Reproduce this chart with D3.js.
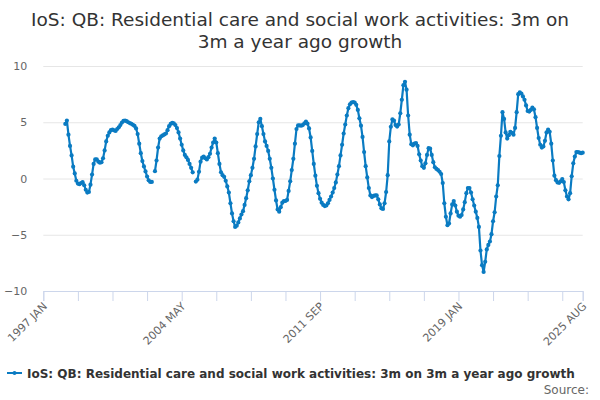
<!DOCTYPE html>
<html>
<head>
<meta charset="utf-8">
<script src="https://cdn.jsdelivr.net/npm/d3@7"></script>
<style>
  body { margin: 0; background: #fff; }
  svg { font-family: "DejaVu Sans", sans-serif; }
</style>
</head>
<body>
<svg width="600" height="400"></svg>
<script>
const svg = d3.select('svg');

const titleLines = ['IoS: QB: Residential care and social work activities: 3m on', '3m a year ago growth'];
const seriesName = 'IoS: QB: Residential care and social work activities: 3m on 3m a year ago growth';
const monthNames = ['JAN', 'FEB', 'MAR', 'APR', 'MAY', 'JUN', 'JUL', 'AUG', 'SEP', 'OCT', 'NOV', 'DEC'];

// x categories: every month 1997 JAN .. 2025 AUG
const months = [];
for (let y = 1997; y <= 2025; y++) {
  monthNames.forEach((mn, i) => {
    if (y === 2025 && i > 7) return;
    months.push(y + ' ' + mn);
  });
}

const labelledTicks = ['1997 JAN', '2004 MAY', '2011 SEP', '2019 JAN', '2025 AUG'];
const yTicks = [-10, -5, 0, 5, 10];

// series starts 1998 MAR, null = gap in the line
const firstMonth = '1998 MAR';
const growth = [
  4.85, 5.15, 3.9, 2.9, 2.05, 1.05, 0.45, -0.2, -0.45, -0.5,
  -0.4, -0.33, -0.6, -1.0, -1.25, -1.2, -0.55, 0.35, 1.3, 1.7,
  1.7, 1.5, 1.4, 1.45, 1.8, 2.5, 3.3, 3.8, 4.1, 4.3,
  4.35, 4.28, 4.23, 4.4, 4.55, 4.75, 4.97, 5.13, 5.15, 5.1,
  5.0, 4.93, 4.86, 4.77, 4.67, 4.45, 3.95, 3.1, 2.25, 1.55,
  1.07, 0.63, 0.18, -0.16, -0.3, -0.3,
  null,
  0.65, 1.6, 2.75, 3.55, 3.75, 3.83, 3.92, 4.0, 4.3, 4.65,
  4.85, 4.95, 4.9, 4.75, 4.48, 4.1, 3.55, 3.0, 2.5, 2.1,
  1.88, 1.65, 1.3, 0.95, 0.55,
  null,
  -0.27, -0.1, 0.6, 1.5, 1.85, 1.95, 1.8, 1.7, 1.9, 2.2,
  2.75, 3.2, 3.55, 3.2, 2.25, 1.3, 0.55, 0.3, 0.15, -0.2,
  -0.7, -1.25, -2.2, -3.1, -3.8, -4.3, -4.2, -3.9, -3.55, -3.2,
  -2.9, -2.35, -1.75, -1.05, -0.25, 0.3, 0.95, 1.75, 2.85, 3.95,
  5.0, 5.3, 4.65, 3.95, 3.3, 2.9, 2.45, 1.75, 0.95, 0.0,
  -1.0, -1.95, -2.75, -2.95, -2.55, -2.15, -2.0, -2.0, -1.9, -1.1,
  -0.25, 0.75, 1.75, 3.1, 4.4, 4.72, 4.72, 4.7, 4.75, 4.9,
  5.05, 4.87, 4.45, 3.65, 2.45, 1.3, 0.25, -0.65, -1.3, -1.8,
  -2.15, -2.35, -2.45, -2.4, -2.2, -1.9, -1.6, -1.25, -0.85, -0.35,
  0.35, 1.1, 2.05, 3.0, 4.0, 4.8, 5.6, 6.25, 6.6, 6.75,
  6.8, 6.75, 6.55, 6.1, 5.35, 4.7, 3.7, 2.35, 1.1, 0.1,
  -0.85, -1.5, -1.65, -1.55, -1.5, -1.5, -1.85, -2.3, -2.65, -2.7,
  -2.2, -1.2, 0.3, 3.3, 4.6, 5.25, 5.15, 4.75, 4.62, 4.8,
  5.8, 7.0, 8.3, 8.6, 7.9, 5.6, 3.9, 3.05, 2.95, 3.1,
  3.15, 2.9, 2.15, 1.6, 1.1, 0.95, 1.35, 2.1, 2.7, 2.65,
  2.1, 1.45, 1.0, 0.85, 0.75, 0.6, 0.4, -0.4, -2.2, -3.4,
  -4.15, -4.0, -3.1, -2.3, -2.0, -2.4, -2.95, -3.3, -3.4, -3.25,
  -2.75, -2.1, -1.3, -0.85, -0.85, -1.25, -1.85, -2.4, -2.95, -3.5,
  -4.3, -6.4, -7.7, -8.3, -7.4, -6.3, -5.9, -5.6, -4.95, -3.8,
  -3.0, -1.6, -0.6, 2.0, 3.8, 5.9, 5.3, 4.1, 3.55, 3.85,
  4.15, 4.05, 3.9, 4.5, 5.9, 7.5, 7.65, 7.55, 7.3, 7.0,
  6.5, 6.0, 5.95, 6.1, 6.3, 6.15, 5.45, 4.5, 3.6, 3.0,
  2.75, 2.85, 3.35, 4.1, 4.35, 4.15, 3.1, 1.6, 0.25, -0.15,
  -0.35, -0.38, -0.25, -0.05, -0.32, -1.05, -1.6, -1.85, -1.3, 0.2,
  1.35, 1.95, 2.35, 2.35, 2.3, 2.25, 2.3
];

const start = months.indexOf(firstMonth);
const data = growth.map((v, i) => ({ month: months[start + i], value: v }));

// margins
const margin = { top: 66, left: 43.3, right: 17.3, bottom: 109 };
const plotW = 600 - margin.left - margin.right;
const plotH = 400 - margin.top - margin.bottom;

const x = d3.scalePoint().domain(months).range([0, plotW]);
const y = d3.scaleLinear().domain([-10, 10]).range([plotH, 0]);

const g = svg.append('g')
  .attr('transform', `translate(${margin.left},${margin.top})`);

// gridlines + y labels
const yAxis = g.append('g')
  .call(d3.axisLeft(y).tickValues(yTicks).tickSize(-plotW).tickPadding(16));
yAxis.select('.domain').remove();
yAxis.selectAll('.tick line').attr('stroke', '#e6e6e6');
yAxis.selectAll('.tick text')
  .attr('fill', '#666')
  .style('font-size', '11px')
  .style('font-family', '"DejaVu Sans", sans-serif');

// x axis: ticks every 22 months + last month
const tickMonths = months.filter((m, i) => i % 22 === 0 || i === months.length - 1);
const xAxis = g.append('g')
  .attr('transform', `translate(0,${plotH})`)
  .call(d3.axisBottom(x).tickValues(tickMonths).tickSize(10)
    .tickFormat(m => labelledTicks.includes(m) ? m : ''));
xAxis.select('.domain').attr('stroke', '#ccd6eb');
xAxis.selectAll('.tick line').attr('stroke', '#ccd6eb');
xAxis.selectAll('.tick text')
  .attr('fill', '#666')
  .style('font-size', '11px')
  .style('font-family', '"DejaVu Sans", sans-serif')
  .attr('text-anchor', 'end')
  .attr('dy', null)
  .attr('y', 0)
  .attr('transform', 'translate(4,16) rotate(-45)');

// line
const line = d3.line()
  .defined(d => d.value !== null)
  .x(d => x(d.month))
  .y(d => y(d.value));

const blue = '#0a7bc2';

g.append('path')
  .datum(data)
  .attr('fill', 'none')
  .attr('stroke', blue)
  .attr('stroke-width', 2.2)
  .attr('stroke-linejoin', 'round')
  .attr('d', line);

g.selectAll('circle.pt')
  .data(data.filter(d => d.value !== null))
  .enter()
  .append('circle')
  .attr('class', 'pt')
  .attr('cx', d => x(d.month))
  .attr('cy', d => y(d.value))
  .attr('r', 2.1)
  .attr('fill', blue);

// title
svg.append('text')
  .attr('x', 300)
  .attr('text-anchor', 'middle')
  .attr('fill', '#333')
  .style('font-size', '18.5px')
  .selectAll('tspan')
  .data(titleLines)
  .enter()
  .append('tspan')
  .attr('x', 300)
  .attr('y', (d, i) => 26 + i * 22)
  .text(d => d);

// legend
const lg = svg.append('g').attr('transform', 'translate(0,373)');
lg.append('line')
  .attr('x1', 7).attr('x2', 22)
  .attr('stroke', blue).attr('stroke-width', 2);
lg.append('circle')
  .attr('cx', 14.5).attr('r', 2).attr('fill', blue);
lg.append('text')
  .text(seriesName)
  .attr('x', 27)
  .attr('y', 4.5)
  .attr('fill', '#333')
  .style('font-size', '12px')
  .style('font-weight', 'bold');

svg.append('text')
  .text('Source:')
  .attr('x', 589)
  .attr('y', 394)
  .attr('text-anchor', 'end')
  .attr('fill', '#666')
  .style('font-size', '12px');
</script>
</body>
</html>
